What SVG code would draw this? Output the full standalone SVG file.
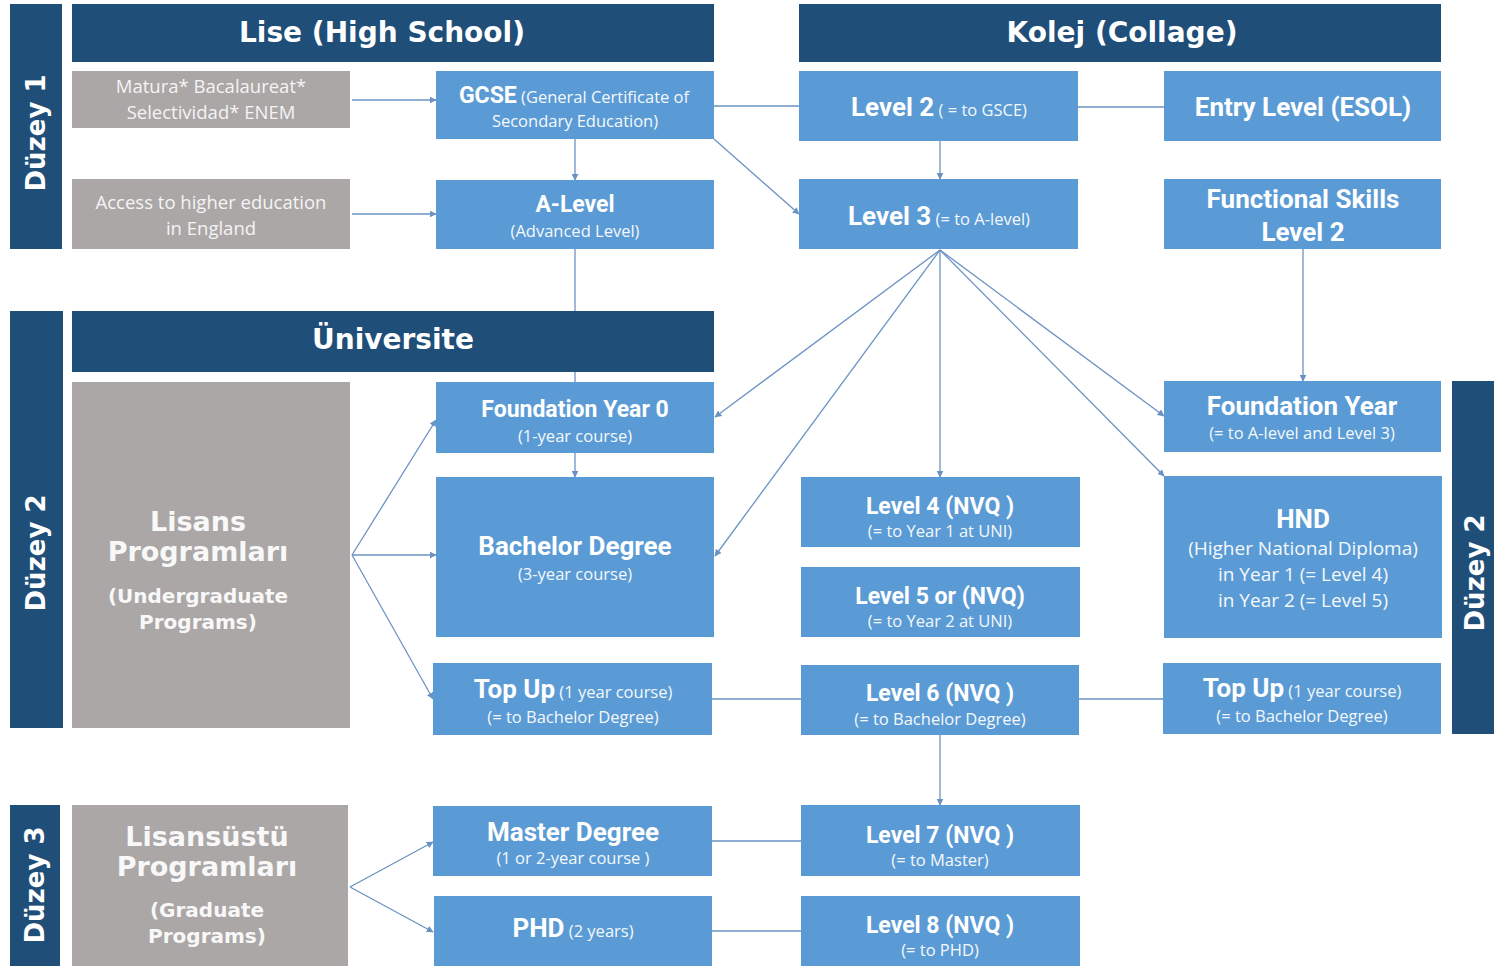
<svg xmlns="http://www.w3.org/2000/svg" width="1494" height="966" viewBox="0 0 1494 966">
<style>
.hdr{fill:#1F4E79}
.box{fill:#5B9BD5}
.grey{fill:#AAA7A6}
.ht{font-family:"DejaVu Sans",Verdana,sans-serif;font-weight:bold;font-size:28px;fill:#fff;text-anchor:middle}
.side{font-family:"DejaVu Sans",Verdana,sans-serif;font-weight:bold;font-size:26px;fill:#fff;text-anchor:middle}
.gt{font-family:"Open Sans","Noto Sans",sans-serif;font-size:18.5px;fill:#F4F4F4;text-anchor:middle}
.gb{font-family:"DejaVu Sans",Verdana,sans-serif;font-weight:bold;font-size:27px;fill:#F8F8F8;text-anchor:middle}
.gs{font-family:"DejaVu Sans",Verdana,sans-serif;font-weight:bold;font-size:20px;fill:#F8F8F8;text-anchor:middle}
.t{font-family:Roboto,"Open Sans",sans-serif;font-weight:bold;font-size:23px;fill:#fff;text-anchor:middle}
.tl{font-family:Roboto,"Open Sans",sans-serif;font-weight:bold;font-size:26px;fill:#fff;text-anchor:middle}
.s{font-family:"Open Sans","Noto Sans",sans-serif;font-size:16.5px;fill:#F4F8FC;text-anchor:middle;font-weight:normal}
.h{font-size:19px}
.c{stroke:#6B93C2;stroke-width:1.3;fill:none}
.a{marker-end:url(#arr)}
</style>
<defs>
<marker id="arr" viewBox="0 0 10 10" refX="9" refY="5" markerWidth="7" markerHeight="7" markerUnits="userSpaceOnUse" orient="auto">
<path d="M0,0 L10,5 L0,10 z" fill="#6B93C2"/>
</marker>
</defs>

<g id="connectors">
<line class="c a" x1="352" y1="100" x2="436" y2="100"/>
<line class="c a" x1="352" y1="214" x2="436" y2="214"/>
<line class="c a" x1="575" y1="139" x2="575" y2="180"/>
<line class="c" x1="714" y1="106" x2="799" y2="106"/>
<line class="c a" x1="714" y1="139" x2="799" y2="214"/>
<line class="c a" x1="940" y1="141" x2="940" y2="179"/>
<line class="c" x1="1078" y1="107" x2="1164" y2="107"/>
<line class="c" x1="575" y1="249" x2="575" y2="311"/>
<line class="c" x1="575" y1="372" x2="575" y2="382"/>
<line class="c a" x1="1303" y1="249" x2="1303" y2="381"/>
<line class="c a" x1="940" y1="250" x2="715" y2="417"/>
<line class="c a" x1="940" y1="250" x2="715" y2="556"/>
<line class="c a" x1="940" y1="250" x2="940" y2="477"/>
<line class="c a" x1="940" y1="250" x2="1164" y2="416"/>
<line class="c a" x1="940" y1="250" x2="1164" y2="476"/>
<line class="c a" x1="575" y1="453" x2="575" y2="477"/>
<line class="c a" x1="352" y1="555" x2="436" y2="420"/>
<line class="c a" x1="352" y1="555" x2="436" y2="555"/>
<line class="c a" x1="352" y1="555" x2="433" y2="699"/>
<line class="c" x1="712" y1="699" x2="801" y2="699"/>
<line class="c" x1="1079" y1="699" x2="1163" y2="699"/>
<line class="c a" x1="940" y1="735" x2="940" y2="805"/>
<line class="c a" x1="350" y1="887" x2="433" y2="842"/>
<line class="c a" x1="350" y1="887" x2="433" y2="932"/>
<line class="c" x1="712" y1="841" x2="801" y2="841"/>
<line class="c" x1="712" y1="931" x2="801" y2="931"/>
</g>

<g id="duzey1">
<rect class="hdr" x="10" y="4" width="52" height="245"/>
<text class="side" transform="translate(45,133) rotate(-90)">Düzey 1</text>
</g>
<g id="duzey2-left">
<rect class="hdr" x="10" y="311" width="53" height="417"/>
<text class="side" transform="translate(45,553) rotate(-90)">Düzey 2</text>
</g>
<g id="duzey3">
<rect class="hdr" x="10" y="805" width="50" height="161"/>
<text class="side" transform="translate(44,885) rotate(-90)">Düzey 3</text>
</g>
<g id="duzey2-right">
<rect class="hdr" x="1452" y="381" width="42" height="353"/>
<text class="side" transform="translate(1484,573) rotate(-90)">Düzey 2</text>
</g>

<g id="lise-header">
<rect class="hdr" x="72" y="4" width="642" height="58"/>
<text class="ht" x="382" y="42">Lise (High School)</text>
</g>
<g id="kolej-header">
<rect class="hdr" x="799" y="4" width="642" height="58"/>
<text class="ht" x="1122" y="42">Kolej (Collage)</text>
</g>
<g id="universite-header">
<rect class="hdr" x="72" y="311" width="642" height="61"/>
<text class="ht" x="393" y="349">Üniversite</text>
</g>

<g id="matura">
<rect class="grey" x="72" y="71" width="278" height="57"/>
<text class="gt" x="211" y="93">Matura* Bacalaureat*</text>
<text class="gt" x="211" y="119">Selectividad* ENEM</text>
</g>
<g id="access">
<rect class="grey" x="72" y="179" width="278" height="70"/>
<text class="gt" x="211" y="209">Access to higher education</text>
<text class="gt" x="211" y="235">in England</text>
</g>
<g id="gcse">
<rect class="box" x="436" y="71" width="278" height="68"/>
<text class="t" x="574" y="103">GCSE<tspan class="s"> (General Certificate of</tspan></text>
<text class="s" x="575" y="127">Secondary Education)</text>
</g>
<g id="alevel">
<rect class="box" x="436" y="180" width="278" height="69"/>
<text class="t" x="575" y="212">A-Level</text>
<text class="s" x="575" y="237">(Advanced Level)</text>
</g>
<g id="level2">
<rect class="box" x="799" y="71" width="279" height="70"/>
<text class="tl" x="939" y="116">Level 2<tspan class="s"> ( = to GSCE)</tspan></text>
</g>
<g id="entry">
<rect class="box" x="1164" y="71" width="277" height="70"/>
<text class="tl" x="1303" y="116">Entry Level (ESOL)</text>
</g>
<g id="level3">
<rect class="box" x="799" y="179" width="279" height="70"/>
<text class="tl" x="939" y="225">Level 3<tspan class="s"> (= to A-level)</tspan></text>
</g>
<g id="functional">
<rect class="box" x="1164" y="179" width="277" height="70"/>
<text class="tl" x="1303" y="208">Functional Skills</text>
<text class="tl" x="1303" y="241">Level 2</text>
</g>

<g id="lisans">
<rect class="grey" x="72" y="382" width="278" height="346"/>
<text class="gb" x="198" y="531">Lisans</text>
<text class="gb" x="198" y="561">Programları</text>
<text class="gs" x="198" y="603">(Undergraduate</text>
<text class="gs" x="198" y="629">Programs)</text>
</g>
<g id="foundation0">
<rect class="box" x="436" y="382" width="278" height="71"/>
<text class="t" x="575" y="417">Foundation Year 0</text>
<text class="s" x="575" y="442">(1-year course)</text>
</g>
<g id="bachelor">
<rect class="box" x="436" y="477" width="278" height="160"/>
<text class="tl" x="575" y="555">Bachelor Degree</text>
<text class="s" x="575" y="580">(3-year course)</text>
</g>
<g id="topup-left">
<rect class="box" x="433" y="663" width="279" height="72"/>
<text class="tl" x="573" y="698">Top Up<tspan class="s"> (1 year course)</tspan></text>
<text class="s" x="573" y="723">(= to Bachelor Degree)</text>
</g>
<g id="level4">
<rect class="box" x="801" y="477" width="279" height="70"/>
<text class="t" x="940" y="514">Level 4 (NVQ )</text>
<text class="s" x="940" y="537">(= to Year 1 at UNI)</text>
</g>
<g id="level5">
<rect class="box" x="801" y="567" width="279" height="70"/>
<text class="t" x="940" y="604">Level 5 or (NVQ)</text>
<text class="s" x="940" y="627">(= to Year 2 at UNI)</text>
</g>
<g id="level6">
<rect class="box" x="801" y="665" width="278" height="70"/>
<text class="t" x="940" y="701">Level 6 (NVQ )</text>
<text class="s" x="940" y="725">(= to Bachelor Degree)</text>
</g>
<g id="foundation-right">
<rect class="box" x="1164" y="381" width="277" height="71"/>
<text class="tl" x="1302" y="415">Foundation Year</text>
<text class="s" x="1302" y="439">(= to A-level and Level 3)</text>
</g>
<g id="hnd">
<rect class="box" x="1164" y="476" width="278" height="162"/>
<text class="tl" x="1303" y="528">HND</text>
<text class="s h" x="1303" y="555">(Higher National Diploma)</text>
<text class="s h" x="1303" y="581">in Year 1 (= Level 4)</text>
<text class="s h" x="1303" y="607">in Year 2 (= Level 5)</text>
</g>
<g id="topup-right">
<rect class="box" x="1163" y="663" width="278" height="71"/>
<text class="tl" x="1302" y="697">Top Up<tspan class="s"> (1 year course)</tspan></text>
<text class="s" x="1302" y="722">(= to Bachelor Degree)</text>
</g>

<g id="lisansustu">
<rect class="grey" x="72" y="805" width="276" height="161"/>
<text class="gb" x="207" y="846">Lisansüstü</text>
<text class="gb" x="207" y="876">Programları</text>
<text class="gs" x="207" y="917">(Graduate</text>
<text class="gs" x="207" y="943">Programs)</text>
</g>
<g id="master">
<rect class="box" x="433" y="806" width="279" height="70"/>
<text class="tl" x="573" y="841">Master Degree</text>
<text class="s" x="573" y="864">(1 or 2-year course )</text>
</g>
<g id="phd">
<rect class="box" x="434" y="896" width="278" height="70"/>
<text class="tl" x="573" y="937">PHD<tspan class="s"> (2 years)</tspan></text>
</g>
<g id="level7">
<rect class="box" x="801" y="805" width="279" height="71"/>
<text class="t" x="940" y="843">Level 7 (NVQ )</text>
<text class="s" x="940" y="866">(= to Master)</text>
</g>
<g id="level8">
<rect class="box" x="801" y="896" width="279" height="70"/>
<text class="t" x="940" y="933">Level 8 (NVQ )</text>
<text class="s" x="940" y="956">(= to PHD)</text>
</g>
</svg>
